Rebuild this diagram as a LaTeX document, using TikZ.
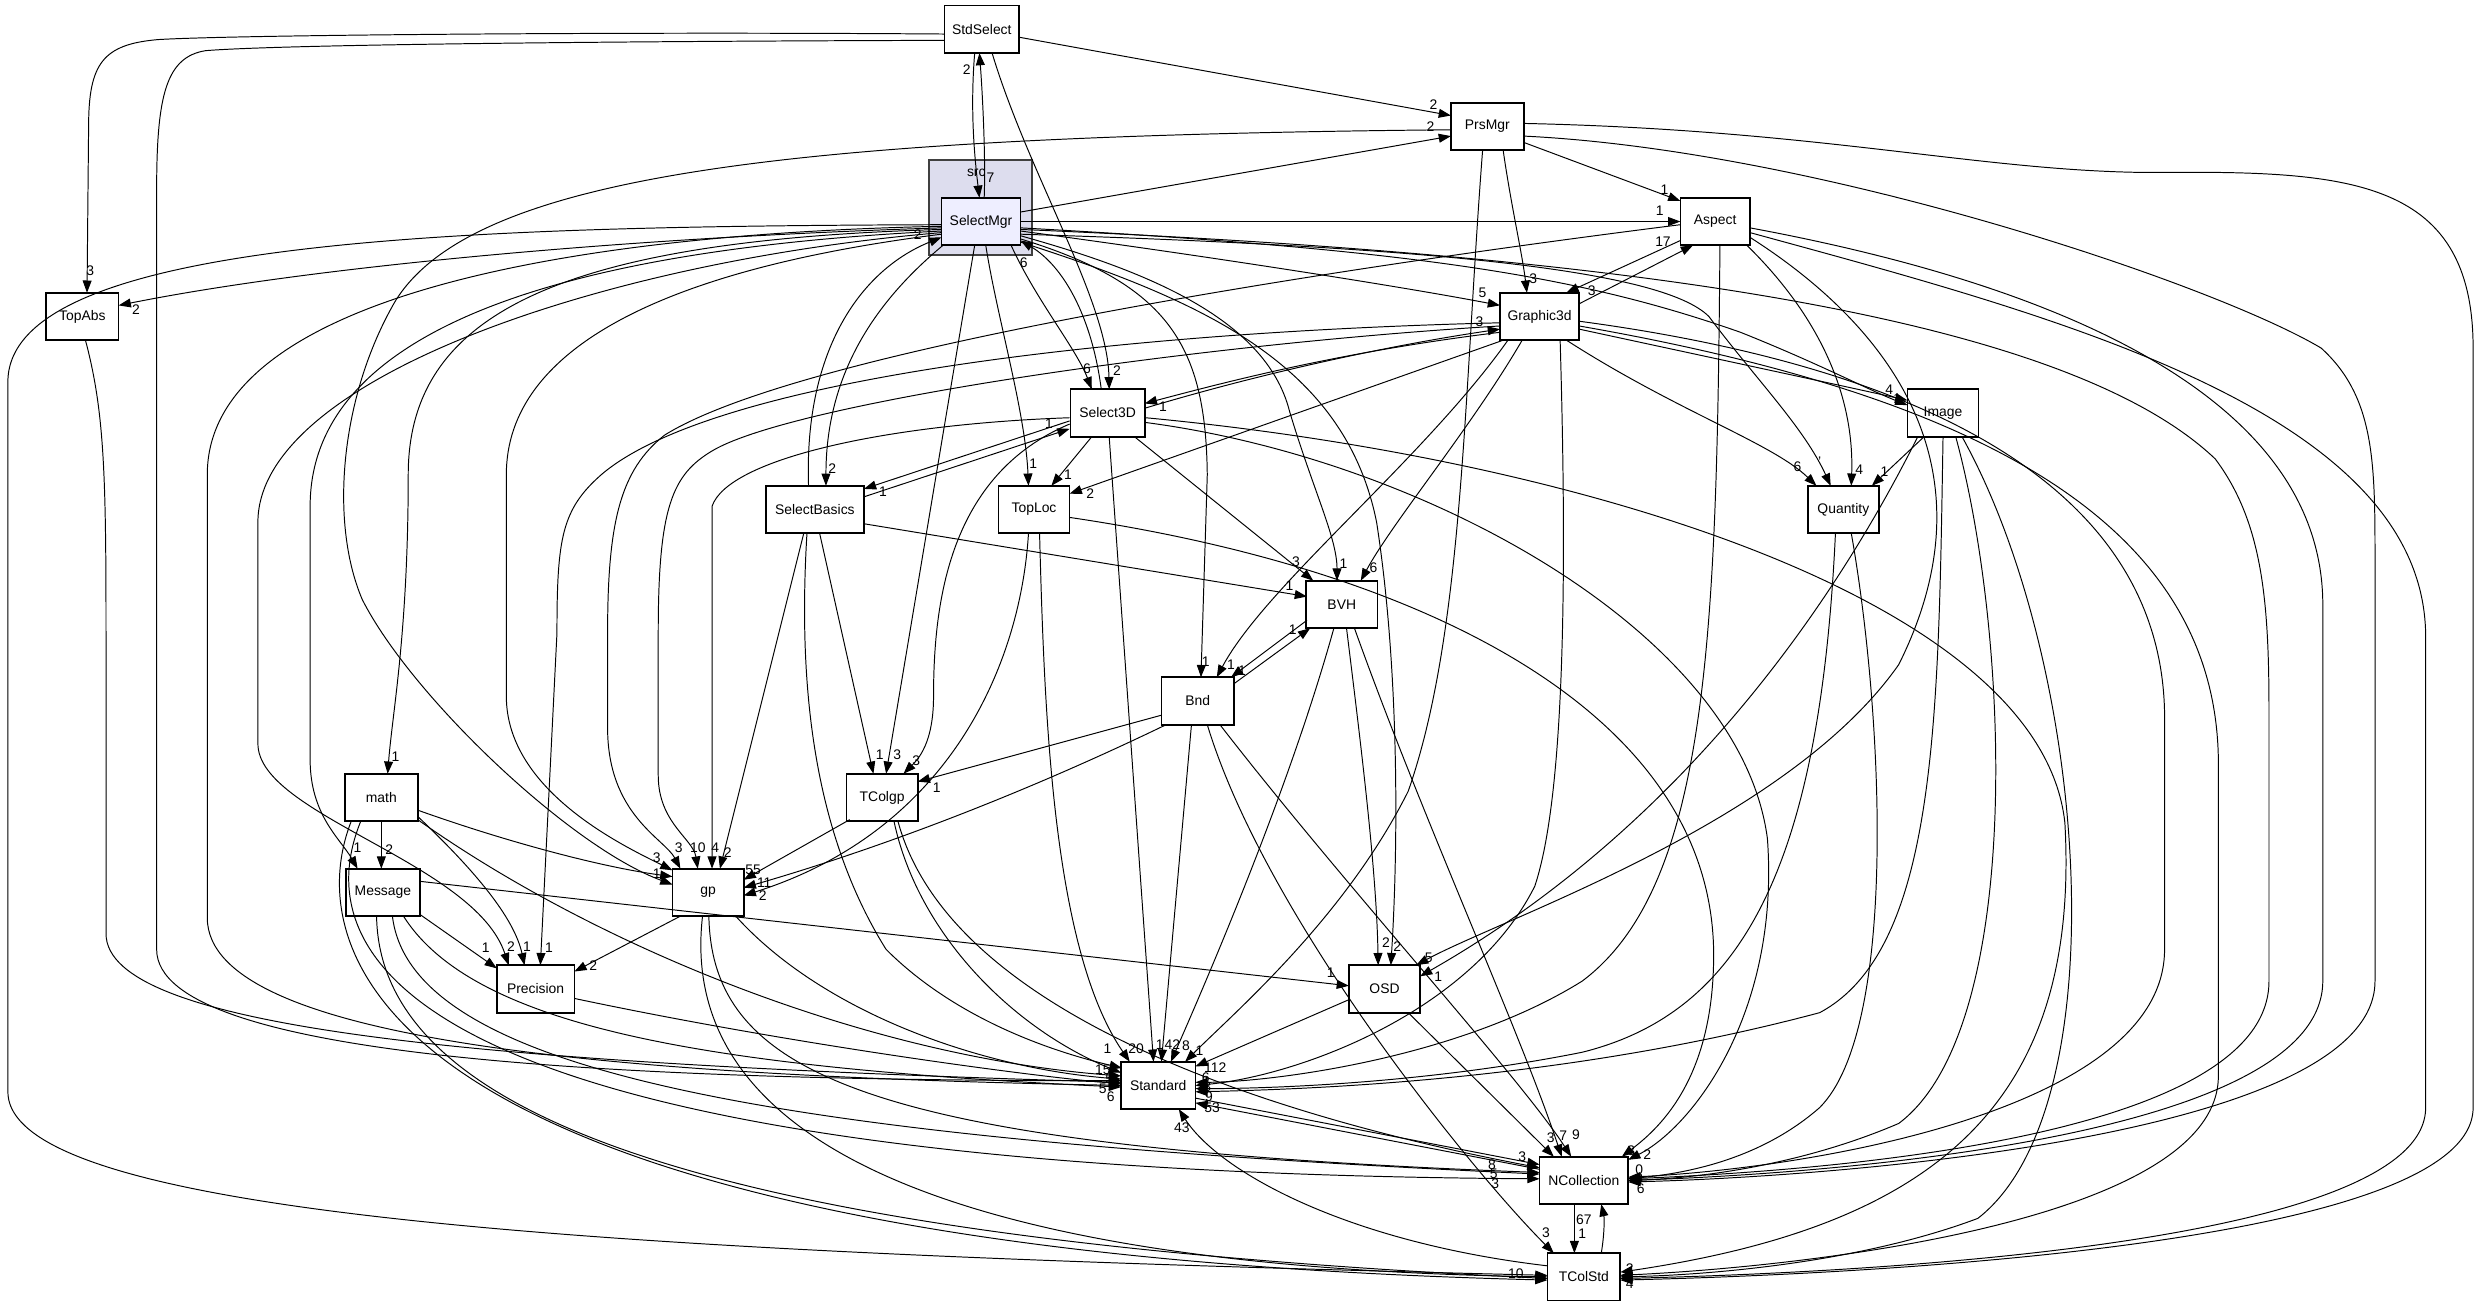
\documentclass[tikz,border=0pt]{standalone}
\usepackage{fontspec}
\setmainfont{Liberation Sans}
\usetikzlibrary{arrows.meta,calc}
\begin{document}
\begin{tikzpicture}[x=0.02cm,y=-0.02cm,
  box/.style={draw=black,line width=0.6pt,fill=white,minimum height=0.6cm,inner sep=0pt,font=\fontsize{5}{6}\selectfont},
  e/.style={draw=black,line width=0.35pt,-{Triangle[length=4.4pt,width=3.2pt]}},
  lbl/.style={font=\fontsize{5}{6}\selectfont,inner sep=0pt}]
\useasboundingbox (0,0) rectangle (1568,826);
\fill[white] (0,0) rectangle (1568,826);
% cluster
\node[draw=black!75,line width=0.8pt,fill={rgb,255:red,221;green,221;blue,238},minimum width=1.3cm,minimum height=1.2cm,inner sep=0pt] (src) at (619.5,131) {};
\node[lbl] (srclbl) at (617,109) {src};
% nodes
\node[box,minimum width=0.94cm] (ss) at (620.5,18.5) {StdSelect};
\node[box,minimum width=0.92cm] (pm) at (940,80) {PrsMgr};
\node[box,minimum width=1.0cm,fill={rgb,255:red,238;green,238;blue,255}] (sm) at (620,140) {SelectMgr};
\node[box,minimum width=0.88cm] (as) at (1084,140) {Aspect};
\node[box,minimum width=1.0cm] (g3) at (973,200) {Graphic3d};
\node[box,minimum width=0.94cm] (s3) at (700,261) {Select3D};
\node[box,minimum width=0.9cm] (im) at (1228,261) {Image};
\node[box,minimum width=0.9cm] (qu) at (1165,322) {Quantity};
\node[box,minimum width=0.92cm] (ta) at (52,200) {TopAbs};
\node[box,minimum width=1.24cm] (sb) at (515,322) {SelectBasics};
\node[box,minimum width=0.9cm] (tl) at (653.5,322) {TopLoc};
\node[box,minimum width=0.9cm] (bv) at (848,382) {BVH};
\node[box,minimum width=0.92cm] (bn) at (757,443) {Bnd};
\node[box,minimum width=0.92cm] (ma) at (241,504) {math};
\node[box,minimum width=0.9cm] (tc) at (557.5,504) {TColgp};
\node[box,minimum width=0.94cm] (me) at (242,564) {Message};
\node[box,minimum width=0.9cm] (gp) at (447.5,564) {gp};
\node[box,minimum width=0.98cm] (pr) at (338.5,625) {Precision};
\node[box,minimum width=0.94cm] (st) at (732,686) {Standard};
\node[box,minimum width=0.9cm] (os) at (875,625) {OSD};
\node[box,minimum width=1.12cm] (nc) at (1001,746) {NCollection};
\node[box,minimum width=0.92cm] (ts) at (1001,807) {TColStd};
% edges
\draw[e] ($(ss)+(-23.5,3)$) .. controls (400,20) and (150,22) .. (100,25) .. controls (65,28) and (56,40) .. (56,80) -- ($(ta)+(3,-15)$);
\draw[e] ($(ss)+(-23.5,7)$) .. controls (400,26) and (180,28) .. (130,32) .. controls (105,36) and (99,60) .. (99,120) -- (99,600) .. controls (99,670) and (400,683) .. ($(st)+(-23.5,-3)$);
\draw[e] ($(ss)+(-4.5,15)$) .. controls (613,70) and (616,100) .. ($(sm)+(-1,-15)$);
\draw[e] ($(sm)+(2,-15)$) .. controls (623,100) and (621,60) .. ($(ss)+(-1.5,15)$);
\draw[e] ($(ss)+(23.5,5)$) -- ($(pm)+(-23,-7)$);
\draw[e] ($(ss)+(6.5,15)$) .. controls (650,110) and (700,190) .. ($(s3)+(1,-15)$);
\draw[e] ($(sm)+(25,-6)$) -- ($(pm)+(-23,6)$);
\draw[e] ($(sm)+(25,0)$) -- ($(as)+(-22,0)$);
\draw[e] ($(pm)+(23,10)$) -- ($(as)+(-22,-13)$);
\draw[e] ($(sm)+(25,6)$) .. controls (750,160) and (880,180) .. ($(g3)+(-25,-7)$);
\draw[e] ($(pm)+(10,15)$) .. controls (955,130) and (962,160) .. ($(g3)+(-8,-15)$);
\draw[e] ($(as)+(-22,12)$) -- ($(g3)+(17,-15)$);
\draw[e] ($(g3)+(25,-8)$) -- ($(as)+(-14,15)$);
\draw[e] ($(sm)+(19,15)$) .. controls (655,190) and (680,220) .. ($(s3)+(-10,-15)$);
\draw[e] ($(s3)+(-4,-15)$) .. controls (690,200) and (672,168) .. ($(sm)+(25,12)$);
\draw[e] ($(sm)+(-24,15)$) .. controls (560,185) and (522,230) .. ($(sb)+(7,-15)$);
\draw[e] ($(sb)+(-4,-15)$) .. controls (508,220) and (545,170) .. ($(sm)+(-25,10)$);
\draw[e] ($(sm)+(-25,4)$) .. controls (400,150) and (200,168) .. ($(ta)+(23,-7)$);
\draw[e] ($(sm)+(-25,2)$) .. controls (300,143) and (8,150) .. (5,240) -- (5,690) .. controls (5,770) and (400,792) .. ($(ts)+(-23,-1)$);
\draw[e] ($(sm)+(-25,3)$) .. controls (350,148) and (131,190) .. (131,300) -- (131,580) .. controls (131,660) and (400,680) .. ($(st)+(-23.5,0)$);
\draw[e] ($(sm)+(-25,5)$) .. controls (350,152) and (258,200) .. (258,300) .. controls (258,400) and (248,450) .. ($(ma)+(4,-15)$);
\draw[e] ($(sm)+(-25,6)$) .. controls (350,158) and (196,210) .. (196,320) -- (196,480) .. controls (196,515) and (215,530) .. ($(me)+(-16,-15)$);
\draw[e] ($(sm)+(-25,7)$) .. controls (380,165) and (163,240) .. (163,330) -- (163,470) .. controls (163,515) and (300,545) .. ($(pr)+(-17,-15)$);
\draw[e] ($(sm)+(-25,8)$) .. controls (420,170) and (320,220) .. (320,300) -- (320,440) .. controls (320,500) and (395,535) .. ($(gp)+(-22.5,-14)$);
\draw[e] ($(ma)+(23,8)$) .. controls (320,532) and (380,548) .. ($(gp)+(-22.5,-10)$);
\draw[e] ($(pm)+(-23,2)$) .. controls (500,86) and (300,110) .. (250,190) .. controls (215,250) and (208,330) .. (229,379) .. controls (260,440) and (360,535) .. ($(gp)+(-22.5,-5)$);
\draw[e] ($(g3)+(-25,4)$) .. controls (700,210) and (450,240) .. (380,300) .. controls (355,322) and (352,340) .. (352,400) -- ($(pr)+(3,-15)$);
\draw[e] ($(as)+(-22,2)$) .. controls (800,175) and (500,225) .. (420,275) .. controls (392,297) and (384,330) .. (384,400) -- (384,460) .. controls (384,515) and (420,530) .. ($(gp)+(-17.5,-15)$);
\draw[e] ($(g3)+(-25,6)$) .. controls (750,218) and (500,255) .. (450,285) .. controls (425,300) and (416,320) .. (416,400) -- (416,490) .. controls (416,520) and (438,530) .. ($(gp)+(-6.5,-15)$);
\draw[e] ($(s3)+(-24,3)$) .. controls (560,268) and (460,290) .. (450,320) -- ($(gp)+(2.5,-15)$);
\draw[e] ($(sb)+(-7,15)$) -- ($(gp)+(7.5,-15)$);
\draw[e] ($(tc)+(-20.5,14)$) -- ($(gp)+(22.5,-8)$);
\draw[e] ($(bn)+(-20,15)$) .. controls (650,500) and (560,535) .. ($(gp)+(22.5,-3)$);
\draw[e] ($(tl)+(-3.5,15)$) .. controls (645,420) and (600,525) .. ($(gp)+(22.5,2)$);
\draw[e] ($(tl)+(22.5,5)$) .. controls (900,360) and (1080,450) .. (1083,600) .. controls (1084,680) and (1050,712) .. ($(nc)+(24,-15)$);
\draw[e] ($(s3)+(24,6)$) .. controls (900,290) and (1100,400) .. (1117,530) .. controls (1125,640) and (1070,712) .. ($(nc)+(28,-13)$);
\draw[e] ($(s3)+(24,3)$) .. controls (1000,290) and (1290,380) .. (1305,520) .. controls (1315,700) and (1220,775) .. ($(ts)+(23,-3)$);
\draw[e] ($(s3)+(1,15)$) -- ($(st)+(-3,-15)$);
\draw[e] ($(sb)+(-5,15)$) .. controls (505,420) and (510,520) .. (560,600) .. controls (610,650) and (680,668) .. ($(st)+(-23,-11)$);
\draw[e] ($(sb)+(3,15)$) -- ($(tc)+(-5.5,-15)$);
\draw[e] ($(sm)+(-4,15)$) .. controls (600,250) and (575,400) .. ($(tc)+(2.5,-15)$);
\draw[e] ($(s3)+(-24,7)$) .. controls (600,300) and (590,380) .. (590,440) .. controls (590,470) and (580,480) .. ($(tc)+(13.5,-15)$);
\draw[e] ($(sb)+(31,-8)$) -- ($(s3)+(-24,10)$);
\draw[e] ($(s3)+(-24,5)$) -- ($(sb)+(31,-13)$);
\draw[e] ($(s3)+(-10,15)$) -- ($(tl)+(11,-15)$);
\draw[e] ($(sm)+(3,15)$) .. controls (630,200) and (648,260) .. ($(tl)+(-3.5,-15)$);
\draw[e] ($(g3)+(-23,15)$) -- ($(tl)+(22.5,-10)$);
\draw[e] ($(g3)+(-25,10)$) .. controls (850,222) and (780,240) .. ($(s3)+(23.5,-6)$);
\draw[e] ($(s3)+(23.5,-3)$) .. controls (800,235) and (880,218) .. ($(g3)+(-25,8)$);
\draw[e] ($(g3)+(-11,15)$) .. controls (930,270) and (880,330) .. ($(bv)+(12,-15)$);
\draw[e] ($(g3)+(-20,15)$) .. controls (900,290) and (800,370) .. ($(bn)+(12,-15)$);
\draw[e] ($(sm)+(25,9)$) .. controls (720,170) and (800,200) .. (815,260) .. controls (830,310) and (845,340) .. ($(bv)+(-3,-15)$);
\draw[e] ($(sm)+(25,11)$) .. controls (740,180) and (762,220) .. (763,300) -- ($(bn)+(2,-15)$);
\draw[e] ($(sm)+(25,13)$) .. controls (760,190) and (850,230) .. (870,330) .. controls (884,420) and (884,530) .. ($(os)+(4,-15)$);
\draw[e] ($(bv)+(3,15)$) .. controls (860,470) and (870,550) .. ($(os)+(-4,-15)$);
\draw[e] ($(bv)+(-5,15)$) .. controls (820,480) and (780,580) .. ($(st)+(8,-15)$);
\draw[e] ($(bv)+(8,15)$) .. controls (900,520) and (960,650) .. ($(nc)+(-14,-15)$);
\draw[e] ($(bn)+(14,15)$) .. controls (850,560) and (960,680) .. ($(nc)+(-8,-15)$);
\draw[e] ($(bn)+(6,15)$) .. controls (800,580) and (930,740) .. ($(ts)+(-19,-15)$);
\draw[e] ($(bn)+(-4,15)$) -- ($(st)+(2,-15)$);
\draw[e] ($(bn)+(-23,9)$) -- ($(tc)+(22.5,-10)$);
\draw[e] ($(bn)+(23,-11)$) -- ($(bv)+(-20,15)$);
\draw[e] ($(bv)+(-22,10)$) -- ($(bn)+(21,-15)$);
\draw[e] ($(sb)+(31,9)$) -- ($(bv)+(-22,-5)$);
\draw[e] ($(s3)+(17,15)$) -- ($(bv)+(-18,-15)$);
\draw[e] ($(tl)+(3.5,15)$) .. controls (660,450) and (665,600) .. ($(st)+(-18,-15)$);
\draw[e] ($(tc)+(7.5,15)$) .. controls (580,590) and (640,650) .. ($(st)+(-23.5,-8)$);
\draw[e] ($(tc)+(10,15)$) .. controls (600,640) and (800,705) .. ($(nc)+(-28,-8)$);
\draw[e] ($(ma)+(0,15)$) -- ($(me)+(-1,-15)$);
\draw[e] ($(ma)+(23,12)$) .. controls (300,550) and (325,580) .. ($(pr)+(-7,-15)$);
\draw[e] ($(me)+(23.5,14)$) -- ($(pr)+(-24.5,-13)$);
\draw[e] ($(gp)+(-17.5,15)$) -- ($(pr)+(24.5,-11)$);
\draw[e] ($(pr)+(24.5,6)$) .. controls (500,660) and (650,680) .. ($(st)+(-23.5,-1)$);
\draw[e] ($(me)+(23.5,-7)$) -- ($(os)+(-22.5,-2)$);
\draw[e] ($(me)+(13,15)$) .. controls (300,650) and (450,675) .. ($(st)+(-23.5,1)$);
\draw[e] ($(me)+(6,15)$) .. controls (260,680) and (500,720) .. ($(nc)+(-28,-4)$);
\draw[e] ($(me)+(-4,15)$) .. controls (240,720) and (500,785) .. ($(ts)+(-23,1)$);
\draw[e] ($(ma)+(-13,15)$) .. controls (195,600) and (240,740) .. ($(nc)+(-28,-1)$);
\draw[e] ($(ma)+(-19,15)$) .. controls (190,600) and (230,790) .. ($(ts)+(-23,2)$);
\draw[e] ($(ma)+(23,14)$) .. controls (380,600) and (550,668) .. ($(st)+(-23.5,-6)$);
\draw[e] ($(gp)+(17.5,15)$) .. controls (520,640) and (620,675) .. ($(st)+(-23.5,-4)$);
\draw[e] ($(gp)+(0.5,15)$) .. controls (450,680) and (550,725) .. ($(nc)+(-28,-5)$);
\draw[e] ($(gp)+(-3.5,15)$) .. controls (430,700) and (550,800) .. ($(ts)+(-23,0)$);
\draw[e] ($(ta)+(2,15)$) .. controls (66,260) and (67,300) .. (67,400) -- (67,590) .. controls (67,650) and (300,672) .. ($(st)+(-23.5,-2)$);
\draw[e] ($(qu)+(-5,15)$) .. controls (1150,550) and (1100,640) .. (1000,665) .. controls (900,685) and (800,688) .. ($(st)+(23.5,2)$);
\draw[e] ($(qu)+(5,15)$) .. controls (1190,450) and (1200,650) .. (1150,700) .. controls (1110,735) and (1060,742) .. ($(nc)+(28,-1)$);
\draw[e] ($(im)+(-12,15)$) -- ($(qu)+(18,-15)$);
\draw[e] ($(as)+(20,15)$) .. controls (1150,200) and (1172,250) .. ($(qu)+(5,-15)$);
\draw[e] ($(g3)+(17,15)$) .. controls (1060,260) and (1120,280) .. ($(qu)+(-17,-15)$);
\draw[e] ($(sm)+(25,8)$) .. controls (900,156) and (1050,170) .. (1080,200) .. controls (1110,240) and (1140,270) .. ($(qu)+(-8,-15)$);
\draw[e] ($(g3)+(25,8)$) .. controls (1100,230) and (1170,245) .. ($(im)+(-22.5,-8)$);
\draw[e] ($(sm)+(25,4)$) .. controls (900,158) and (1000,175) .. (1100,210) .. controls (1150,230) and (1180,246) .. ($(im)+(-22.5,-5)$);
\draw[e] ($(im)+(8,15)$) .. controls (1270,400) and (1280,650) .. (1200,710) .. controls (1130,740) and (1060,745) .. ($(nc)+(28,0)$);
\draw[e] ($(im)+(12,15)$) .. controls (1320,420) and (1340,700) .. (1250,770) .. controls (1170,800) and (1070,806) .. ($(ts)+(23,0)$);
\draw[e] ($(im)+(0,15)$) .. controls (1225,450) and (1225,600) .. (1150,640) .. controls (1000,680) and (850,688) .. ($(st)+(23.5,4)$);
\draw[e] ($(as)+(3,15)$) .. controls (1085,400) and (1080,560) .. (1000,620) .. controls (920,670) and (800,684) .. ($(st)+(23.5,-2)$);
\draw[e] ($(as)+(22,10)$) .. controls (1200,210) and (1260,300) .. (1200,420) .. controls (1130,520) and (950,580) .. ($(os)+(20,-15)$);
\draw[e] ($(im)+(-16,15)$) .. controls (1150,400) and (1050,530) .. ($(os)+(22.5,-8)$);
\draw[e] ($(os)+(-23,7)$) -- ($(st)+(23.5,-12)$);
\draw[e] ($(os)+(15,15)$) -- ($(nc)+(-19,-15)$);
\draw[e] ($(st)+(23.5,8)$) -- ($(nc)+(-28,-10)$);
\draw[e] ($(nc)+(-28,-7)$) -- ($(st)+(23.5,11)$);
\draw[e] ($(ts)+(-23,-7)$) .. controls (850,785) and (770,740) .. ($(st)+(13,15)$);
\draw[e] ($(nc)+(-6,15)$) -- ($(ts)+(-6,-15)$);
\draw[e] ($(ts)+(11,-15)$) .. controls (1014,780) and (1014,770) .. ($(nc)+(11,15)$);
\draw[e] ($(g3)+(13,15)$) .. controls (990,350) and (990,500) .. (970,560) .. controls (930,640) and (820,680) .. ($(st)+(23.5,0)$);
\draw[e] ($(g3)+(25,3)$) .. controls (1200,230) and (1365,300) .. (1368,450) -- (1368,600) .. controls (1368,700) and (1150,738) .. ($(nc)+(28,-2)$);
\draw[e] ($(g3)+(25,6)$) .. controls (1250,250) and (1400,330) .. (1402,480) -- (1402,680) .. controls (1402,770) and (1150,800) .. ($(ts)+(23,-1)$);
\draw[e] ($(sm)+(25,5)$) .. controls (1000,160) and (1300,195) .. (1400,290) .. controls (1430,330) and (1434,380) .. (1434,450) -- (1434,620) .. controls (1434,720) and (1150,740) .. ($(nc)+(28,-1)$);
\draw[e] ($(as)+(22,4)$) .. controls (1300,180) and (1466,250) .. (1468,380) -- (1468,620) .. controls (1468,720) and (1150,742) .. ($(nc)+(28,0)$);
\draw[e] ($(pm)+(23,6)$) .. controls (1150,95) and (1400,180) .. (1467,220) .. controls (1500,250) and (1501,290) .. (1501,350) -- (1501,620) .. controls (1501,720) and (1150,744) .. ($(nc)+(28,1)$);
\draw[e] ($(as)+(22,7)$) .. controls (1300,200) and (1530,260) .. (1533,400) -- (1533,700) .. controls (1533,790) and (1150,805) .. ($(ts)+(23,1)$);
\draw[e] ($(pm)+(23,-2)$) .. controls (1150,82) and (1250,108) .. (1357,109) .. controls (1480,108) and (1563,110) .. (1563,220) -- (1563,700) .. controls (1563,790) and (1150,806) .. ($(ts)+(23,2)$);
\draw[e] ($(pm)+(-3,15)$) .. controls (925,250) and (925,400) .. (890,500) .. controls (850,580) and (780,640) .. ($(st)+(17,-15)$);
% labels
\node[lbl] (L1) at (57,171) {3};
\node[lbl] (L2) at (626,112) {7};
\node[lbl] (L3) at (611,44) {2};
\node[lbl] (L4) at (906,66) {2};
\node[lbl] (L5) at (706,234) {2};
\node[lbl] (L6) at (904,80) {2};
\node[lbl] (L7) at (1049,133) {1};
\node[lbl] (L8) at (1052,120) {1};
\node[lbl] (L9) at (937,185) {5};
\node[lbl] (L10) at (969,176) {3};
\node[lbl] (L11) at (1006,184) {3};
\node[lbl] (L12) at (1051,153) {17};
\node[lbl] (L13) at (687,233) {6};
\node[lbl] (L14) at (647,166) {6};
\node[lbl] (L15) at (526,296) {2};
\node[lbl] (L16) at (580,148) {2};
\node[lbl] (L17) at (86,196) {2};
\node[lbl] (L18) at (250,478) {1};
\node[lbl] (L19) at (226,536) {1};
\node[lbl] (L20) at (323,598) {2};
\node[lbl] (L21) at (415,542) {3};
\node[lbl] (L22) at (415,552) {1};
\node[lbl] (L24) at (347,599) {1};
\node[lbl] (L25) at (429,536) {3};
\node[lbl] (L26) at (441,536) {10};
\node[lbl] (L27) at (452,536) {4};
\node[lbl] (L28) at (460,539) {2};
\node[lbl] (L29) at (476,550) {55};
\node[lbl] (L30) at (483,558) {11};
\node[lbl] (L31) at (482,566) {2};
\node[lbl] (L32) at (1031,727) {3};
\node[lbl] (L33) at (1041,730) {2};
\node[lbl] (L34) at (1030,802) {2};
\node[lbl] (L35) at (733,660) {1};
\node[lbl] (L36) at (700,663) {1};
\node[lbl] (L37) at (556,477) {1};
\node[lbl] (L38) at (567,477) {3};
\node[lbl] (L39) at (579,481) {3};
\node[lbl] (L40) at (663,268) {1};
\node[lbl] (L41) at (558,311) {1};
\node[lbl] (L42) at (675,300) {1};
\node[lbl] (L43) at (653,293) {1};
\node[lbl] (L44) at (689,312) {2};
\node[lbl] (L45) at (735,257) {1};
\node[lbl] (L46) at (935,203) {3};
\node[lbl] (L47) at (868,359) {6};
\node[lbl] (L48) at (778,420) {1};
\node[lbl] (L49) at (849,356) {1};
\node[lbl] (L50) at (762,418) {1};
\node[lbl] (L51) at (883,598) {2};
\node[lbl] (L52) at (876,596) {2};
\node[lbl] (L53) at (749.5,661) {8};
\node[lbl] (L54) at (988,718) {7};
\node[lbl] (L55) at (996,717) {9};
\node[lbl] (L56) at (977,779) {3};
\node[lbl] (L57) at (741,660) {42};
\node[lbl] (L58) at (592,498) {1};
\node[lbl] (L59) at (817,398) {1};
\node[lbl] (L60) at (785,424) {1};
\node[lbl] (L61) at (815,370) {1};
\node[lbl] (L62) at (819,355) {3};
\node[lbl] (L63) at (718,663) {20};
\node[lbl] (L64) at (697,676) {15};
\node[lbl] (L65) at (246,537) {2};
\node[lbl] (L66) at (333,598) {1};
\node[lbl] (L67) at (307,599) {1};
\node[lbl] (L68) at (375,610) {2};
\node[lbl] (L69) at (841,615) {1};
\node[lbl] (L70) at (1191,298) {1};
\node[lbl] (L71) at (1175,297) {4};
\node[lbl] (L72) at (1136,295) {6};
\node[lbl] (L73) at (1150,292) {'};
\node[lbl] (L74) at (1194,246) {4};
\node[lbl] (L75) at (1199,252) {1};
\node[lbl] (L76) at (903,605) {5};
\node[lbl] (L77) at (909,617) {1};
\node[lbl] (L78) at (768,675) {112};
\node[lbl] (L79) at (980,719) {3};
\node[lbl] (L80) at (962,731) {3};
\node[lbl] (L81) at (766,700) {53};
\node[lbl] (L82) at (747,713) {43};
\node[lbl] (L83) at (1001,771) {67};
\node[lbl] (L84) at (1000,780) {1};
\node[lbl] (L85) at (758,664) {1};
\node[lbl] (L86) at (701,682) {5};
\node[lbl] (L87) at (697,688) {5};
\node[lbl] (L88) at (702,693) {6};
\node[lbl] (L89) at (762,681) {6};
\node[lbl] (L90) at (763,687) {3};
\node[lbl] (L91) at (764,693) {9};
\node[lbl] (L92) at (943,736) {8};
\node[lbl] (L93) at (944,742) {5};
\node[lbl] (L94) at (945,748) {3};
\node[lbl] (L95) at (1036,739) {0};
\node[lbl] (L96) at (1036,745) {8};
\node[lbl] (L97) at (1037,751) {6};
\node[lbl] (L98) at (958,805) {10};
\node[lbl] (L99) at (1030,811) {4};
\end{tikzpicture}
\end{document}
